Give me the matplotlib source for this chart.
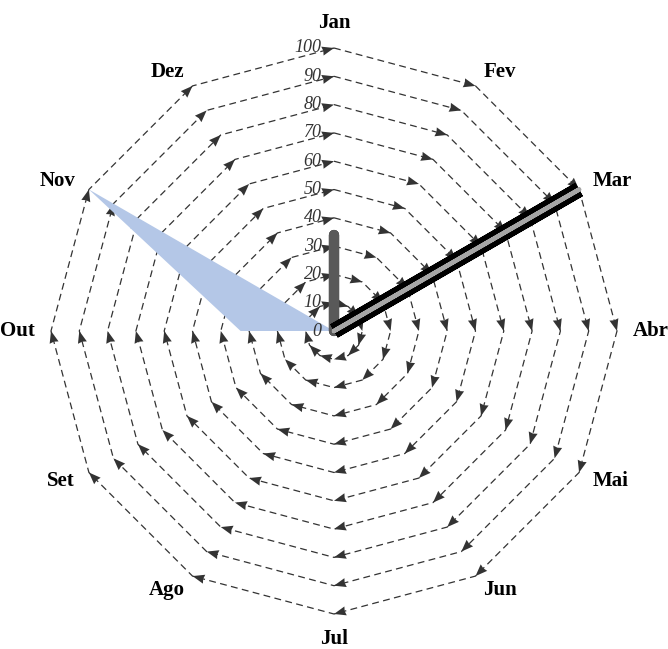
import numpy as np
import matplotlib
matplotlib.use("Agg")
import matplotlib.pyplot as plt
from matplotlib.patches import Polygon

# Categories (months, clockwise from the top)
months = ["Jan", "Fev", "Mar", "Abr", "Mai", "Jun",
          "Jul", "Ago", "Set", "Out", "Nov", "Dez"]

# Series values per month
serie_cinza = [34, 0, 0, 0, 0, 0, 0, 0, 0, 0, 0, 0]
serie_preta = [0, 0, 100, 0, 0, 0, 0, 0, 0, 0, 0, 0]
serie_area = [0, 0, 0, 0, 0, 0, 0, 0, 0, 33, 100, 0]

# Radial scale
ring_values = [0, 10, 20, 30, 40, 50, 60, 70, 80, 90, 100]
ring_labels = ["0", "10", "20", "30", "40", "50", "60", "70", "80", "90", "100"]

W, H, DPI = 668, 649, 100
PX = 2.83                  # pixels per unit of value
CX, CY = 334, 331          # centre in pixels (from top-left)

n = len(months)
angles = np.pi / 2 - 2 * np.pi * np.arange(n) / n


def polar_xy(values):
    v = np.asarray(values, dtype=float)
    return v * np.cos(angles), v * np.sin(angles)


fig = plt.figure(figsize=(W / DPI, H / DPI), dpi=DPI)
ax = fig.add_axes([0, 0, 1, 1])
ax.set_xlim(-CX / PX, (W - CX) / PX)
ax.set_ylim(-(H - CY) / PX, CY / PX)
ax.set_aspect("equal", adjustable="box")
ax.axis("off")

grid_color = "#333333"
head_len = 12 / PX
head_half = 4.6 / PX

# Dashed rings traced in month order, with an arrowhead at each vertex
for rv in ring_values[1:]:
    gx, gy = polar_xy([rv] * n)
    gx = np.append(gx, gx[0])
    gy = np.append(gy, gy[0])
    ax.plot(gx, gy, color=grid_color, lw=0.9, ls=(0, (5.5, 3.5)), zorder=1)
    for i in range(n):
        x0, y0 = gx[i], gy[i]
        x1, y1 = gx[i + 1], gy[i + 1]
        d = np.array([x1 - x0, y1 - y0])
        d /= np.hypot(*d)
        p = np.array([-d[1], d[0]])
        tip = np.array([x1, y1])
        base = tip - d * head_len
        notch = tip - d * head_len * 0.92
        tri = [tip, base + p * head_half, notch, base - p * head_half]
        ax.add_patch(Polygon(tri, closed=True, facecolor=grid_color,
                             edgecolor="none", zorder=2))

# Filled area series
ax_, ay_ = polar_xy(serie_area)
ax.fill(ax_, ay_, color="#b4c7e7", lw=0, zorder=3)

# Thick grey line series
cx_, cy_ = polar_xy(serie_cinza)
ax.plot(np.append(cx_, cx_[0]), np.append(cy_, cy_[0]), color="#595959",
        lw=7.4, solid_capstyle="round", solid_joinstyle="round", zorder=4)

# Black line series with a light inner stroke
bx_, by_ = polar_xy(serie_preta)
bx_c = np.append(bx_, bx_[0])
by_c = np.append(by_, by_[0])
ax.plot(bx_c, by_c, color="#000000", lw=11,
        solid_capstyle="butt", solid_joinstyle="bevel", zorder=5)
ax.plot(bx_c, by_c, color="#a6a6a6", lw=3.2,
        solid_capstyle="round", solid_joinstyle="round", zorder=6)

# Radial tick labels along the Jan axis
for rv, lab in zip(ring_values, ring_labels):
    ax.text(-4.4, rv, lab, ha="right", va="center", fontsize=13,
            family="Liberation Serif", style="italic", color="#333333",
            zorder=7)

# Month labels around the outside
for i, m in enumerate(months):
    a = angles[i]
    c, s = np.cos(a), np.sin(a)
    if abs(c) < 1e-6:
        r = 100 + 25 / PX
        ha, va = "center", "center"
    else:
        r = 100 + 16 / PX
        ha = "left" if c > 0 else "right"
        va = "center"
    ax.text(r * c, r * s, m, ha=ha, va=va, fontsize=15, fontweight="bold",
            family="Liberation Serif", color="black", zorder=7)

fig.savefig("out.png", dpi=DPI)
